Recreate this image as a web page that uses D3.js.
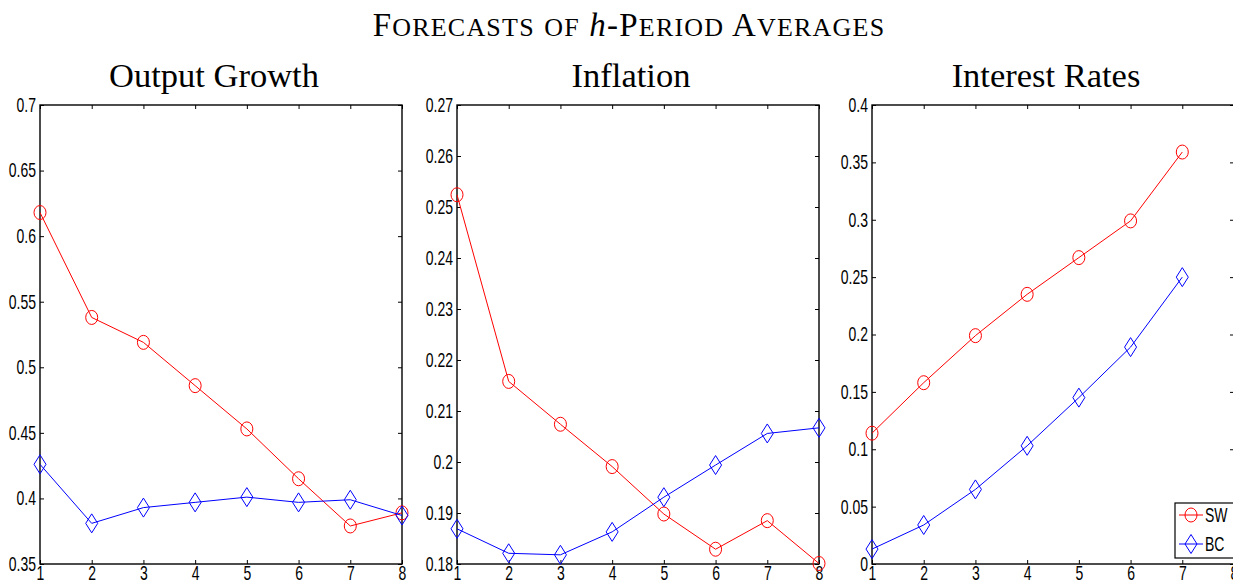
<!DOCTYPE html>
<html>
<head>
<meta charset="utf-8">
<script src="https://cdn.jsdelivr.net/npm/d3@7"></script>
<style>
  body { margin: 0; background: #fff; }
  svg { display: block; }
</style>
</head>
<body>
<svg id="chart" width="1233" height="587"></svg>
<script>
// horizons
const horizons = [1, 2, 3, 4, 5, 6, 7, 8];

// Output growth
const growthSW = [0.618, 0.538, 0.519, 0.486, 0.453, 0.415, 0.379, 0.389];
const growthBC = [0.426, 0.381, 0.393, 0.397, 0.401, 0.397, 0.399, 0.387];
const growthTicks = [0.35, 0.4, 0.45, 0.5, 0.55, 0.6, 0.65, 0.7];

// Inflation
const inflSW = [0.2524, 0.2158, 0.2074, 0.1991, 0.1898, 0.1829, 0.1885, 0.1801];
const inflBC = [0.1869, 0.1821, 0.1818, 0.1863, 0.1931, 0.1994, 0.2056, 0.2067];
const inflTicks = [0.18, 0.19, 0.2, 0.21, 0.22, 0.23, 0.24, 0.25, 0.26, 0.27];

// Interest rates (no h = 8)
const rateSW = [0.114, 0.158, 0.199, 0.235, 0.267, 0.299, 0.359];
const rateBC = [0.013, 0.034, 0.065, 0.103, 0.145, 0.189, 0.250];
const rateTicks = [0, 0.05, 0.1, 0.15, 0.2, 0.25, 0.3, 0.35, 0.4];

const panels = [
  { title: 'Output Growth', left: 40, sw: growthSW, bc: growthBC, ticks: growthTicks },
  { title: 'Inflation', left: 457, sw: inflSW, bc: inflBC, ticks: inflTicks },
  { title: 'Interest Rates', left: 872, sw: rateSW, bc: rateBC, ticks: rateTicks }
];

const W = 362, axTop = 105, axBottom = 564;
const squeeze = 0.7; // MATLAB labels come out narrow
const svg = d3.select('#chart');

// main title, hand-made small caps (big caps 33px, small caps 26px)
const main = svg.append('text')
  .attr('x', 629)
  .attr('y', 36)
  .attr('text-anchor', 'middle')
  .attr('font-family', 'Liberation Serif, serif')
  .attr('font-size', 33)
  .attr('letter-spacing', 1.2);
function smallCaps(str) {
  for (const ch of str) {
    const lower = ch !== ch.toUpperCase();
    main.append('tspan')
      .attr('font-size', lower ? 26 : 33)
      .text(ch.toUpperCase());
  }
}
smallCaps('Forecasts of ');
main.append('tspan').attr('font-style', 'italic').text('h');
smallCaps('-Period Averages');

function diamond(g, cx, cy) {
  g.append('path')
    .attr('d', `M${cx},${cy - 9.5}L${cx + 6},${cy}L${cx},${cy + 9.5}L${cx - 6},${cy}Z`);
}

panels.forEach(p => {
  const x = d3.scaleLinear().domain([1, 8]).range([p.left, p.left + W]);
  const y = d3.scaleLinear().domain(d3.extent(p.ticks)).range([axBottom, axTop]);
  const g = svg.append('g');

  // title
  g.append('text')
    .attr('x', p.left + W / 2 - 7)
    .attr('y', 87)
    .attr('text-anchor', 'middle')
    .attr('font-family', 'Liberation Serif, serif')
    .attr('font-size', 34.5)
    .text(p.title);

  // axes, ticks pointing inward on all four sides
  const fmt = d => String(+d.toFixed(3));
  const xb = g.append('g').attr('transform', `translate(0,${axBottom})`)
    .call(d3.axisBottom(x).tickValues(horizons).tickSizeInner(-4).tickSizeOuter(0).tickFormat(d3.format('d')));
  const xt = g.append('g').attr('transform', `translate(0,${axTop})`)
    .call(d3.axisTop(x).tickValues(horizons).tickSizeInner(-4).tickSizeOuter(0).tickFormat(''));
  const yl = g.append('g').attr('transform', `translate(${p.left},0)`)
    .call(d3.axisLeft(y).tickValues(p.ticks).tickSizeInner(-4).tickSizeOuter(0).tickFormat(fmt));
  const yr = g.append('g').attr('transform', `translate(${p.left + W},0)`)
    .call(d3.axisRight(y).tickValues(p.ticks).tickSizeInner(-4).tickSizeOuter(0).tickFormat(''));

  [xb, xt, yl, yr].forEach(a => {
    a.select('.domain').remove();
    a.selectAll('line').attr('stroke', '#000');
    a.selectAll('text')
      .attr('font-family', 'Liberation Sans, Arial, sans-serif')
      .attr('font-size', 20)
      .attr('fill', '#000')
      .attr('transform', `scale(${squeeze},1)`);
  });
  xb.selectAll('text').attr('y', 2);
  yl.selectAll('text').attr('x', -4 / squeeze);

  // box
  g.append('rect')
    .attr('x', p.left).attr('y', axTop)
    .attr('width', W).attr('height', axBottom - axTop)
    .attr('fill', 'none').attr('stroke', '#000').attr('stroke-width', 1.4);

  const line = d3.line().x((d, i) => x(horizons[i])).y(d => y(d));

  // SW: red circles
  g.append('path').datum(p.sw)
    .attr('d', line).attr('fill', 'none').attr('stroke', '#ff0000').attr('stroke-width', 1);
  g.append('g').selectAll('ellipse').data(p.sw).join('ellipse')
    .attr('cx', (d, i) => x(horizons[i])).attr('cy', d => y(d))
    .attr('rx', 6).attr('ry', 7)
    .attr('fill', 'none').attr('stroke', '#ff0000').attr('stroke-width', 1);

  // BC: blue diamonds
  g.append('path').datum(p.bc)
    .attr('d', line).attr('fill', 'none').attr('stroke', '#0000ff').attr('stroke-width', 1);
  const dg = g.append('g').attr('fill', 'none').attr('stroke', '#0000ff').attr('stroke-width', 1);
  p.bc.forEach((d, i) => diamond(dg, x(horizons[i]), y(d)));
});

// legend (last panel, lower right)
const leg = svg.append('g');
leg.append('rect')
  .attr('x', 1175).attr('y', 503).attr('width', 70).attr('height', 55)
  .attr('fill', '#fff').attr('stroke', '#000').attr('stroke-width', 1.2);
const legItems = [
  { name: 'SW', color: '#ff0000', y: 515 },
  { name: 'BC', color: '#0000ff', y: 544 }
];
legItems.forEach(it => {
  leg.append('line').attr('x1', 1179).attr('x2', 1203).attr('y1', it.y).attr('y2', it.y)
    .attr('stroke', it.color);
  if (it.name === 'SW') {
    leg.append('ellipse').attr('cx', 1191).attr('cy', it.y).attr('rx', 6).attr('ry', 7)
      .attr('fill', 'none').attr('stroke', it.color);
  } else {
    const dg = leg.append('g').attr('fill', 'none').attr('stroke', it.color);
    diamond(dg, 1191, it.y);
  }
  leg.append('text')
    .attr('transform', `translate(1205,${it.y}) scale(${squeeze},1)`)
    .attr('dy', '0.35em')
    .attr('font-family', 'Liberation Sans, Arial, sans-serif')
    .attr('font-size', 20)
    .text(it.name);
});
</script>
</body>
</html>
